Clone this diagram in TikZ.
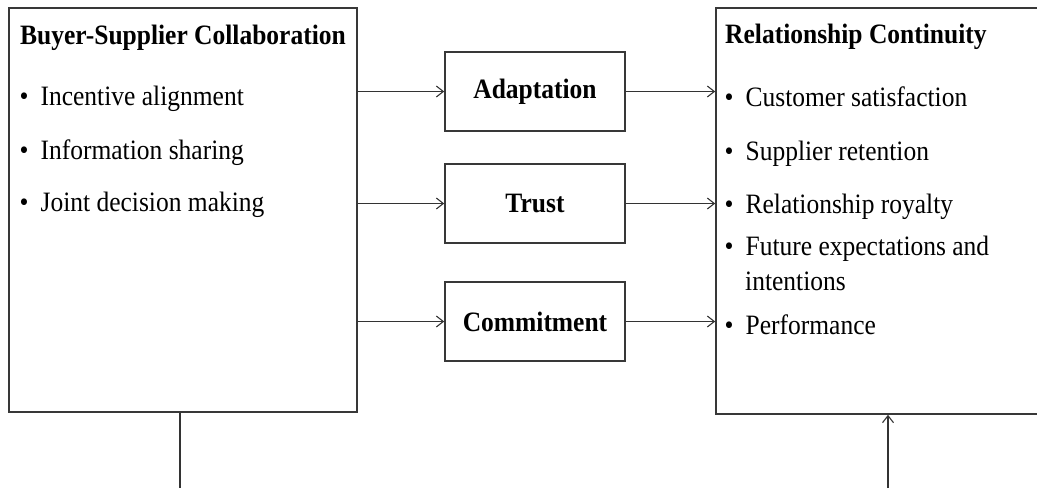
\documentclass[tikz,border=0pt]{standalone}
\usepackage{graphicx}
\usepackage{fontspec}
\setmainfont{Liberation Serif}
\usetikzlibrary{arrows.meta}
\tikzset{
  bigbox/.style={draw=black!78, line width=1.6pt, inner sep=0pt, fill=none},
  midbox/.style={draw=black!78, line width=1.6pt, inner sep=0pt, minimum width=180pt, minimum height=79pt, font=\fontsize{25.5}{30}\selectfont\bfseries},
  txt/.style={anchor=base west, inner sep=0pt, font=\fontsize{25.5}{30}\selectfont},
  ttl/.style={anchor=base west, inner sep=0pt, font=\fontsize{25.5}{30}\selectfont\bfseries},
  conn/.style={draw=black!80, line width=1.2pt},
  arr/.style={conn, -{Straight Barb[length=7pt, width=11pt, line width=1.1pt]}},
}
\newcommand\st[1]{\scalebox{1}[1.1]{#1}}
\newcommand\bul{•\hspace{12pt}}
\begin{document}
\begin{tikzpicture}[x=1pt, y=-1pt]
\useasboundingbox (0,0) rectangle (1037,488);
\clip (0,0) rectangle (1037,488);
% big boxes
\node[bigbox, minimum width=348pt, minimum height=404pt] (lbox) at (183,210) {};
\node[bigbox, minimum width=340pt, minimum height=406pt] (rbox) at (886,211) {};
% middle boxes
\node[midbox] (adapt) at (535,91.5) {\st{Adaptation}};
\node[midbox] (trust) at (535,203.5) {\st{Trust}};
\node[midbox] (commit) at (535,321.5) {\st{Commitment}};
% left texts
\node[ttl] (lt) at (20,44) {\st{Buyer-Supplier Collaboration}};
\node[txt] (l1) at (19.5,105) {\st{\bul Incentive alignment}};
\node[txt] (l2) at (19.5,159) {\st{\bul Information sharing}};
\node[txt] (l3) at (19.5,211) {\st{\bul Joint decision making}};
% right texts
\node[ttl] (rt) at (725,43) {\st{Relationship Continuity}};
\node[txt] (r1) at (724.5,106) {\st{\bul Customer satisfaction}};
\node[txt] (r2) at (724.5,160) {\st{\bul Supplier retention}};
\node[txt] (r3) at (724.5,213) {\st{\bul Relationship royalty}};
\node[txt] (r4) at (724.5,255) {\st{\bul Future expectations and}};
\node[txt] (r4b) at (745,290) {\st{intentions}};
\node[txt] (r5) at (724.5,334) {\st{\bul Performance}};
% arrows
\draw[arr] (lbox.east |- adapt) -- (adapt.west);
\draw[arr] (lbox.east |- trust) -- (trust.west);
\draw[arr] (lbox.east |- commit) -- (commit.west);
\draw[arr] (adapt.east) -- (adapt.east -| rbox.west);
\draw[arr] (trust.east) -- (trust.east -| rbox.west);
\draw[arr] (commit.east) -- (commit.east -| rbox.west);
% bottom connectors
\coordinate (b1) at (180,488);
\coordinate (b2) at (888,488);
\draw[conn] (b1 |- lbox.south) -- (b1);
\draw[arr] (b2) -- (b2 |- rbox.south);
\end{tikzpicture}
\end{document}
